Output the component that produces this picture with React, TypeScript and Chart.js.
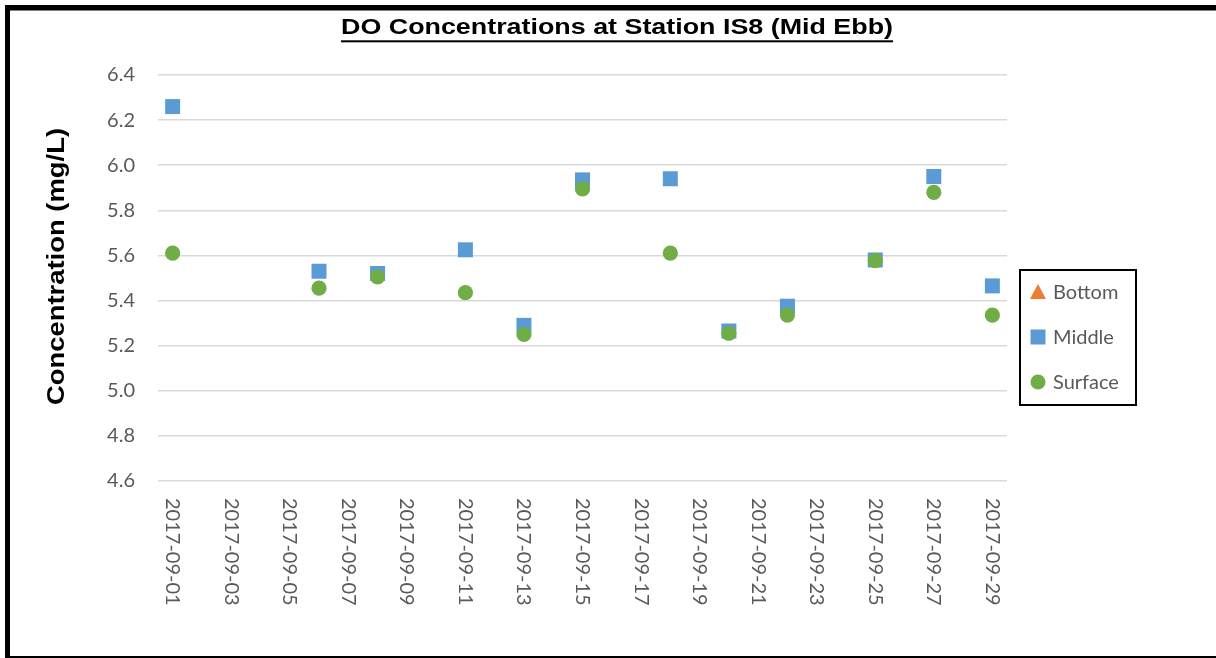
import React, { useEffect, useRef } from "react";
import { Chart, registerables } from "chart.js";

Chart.register(...registerables);

const chartTitle = "DO Concentrations at Station IS8 (Mid Ebb)";
const yAxisTitle = "Concentration (mg/L)";
const seriesNames = ["Bottom", "Middle", "Surface"];

const sampleDates = [
  "2017-09-01", "2017-09-06", "2017-09-08", "2017-09-11", "2017-09-13", "2017-09-15",
  "2017-09-18", "2017-09-20", "2017-09-22", "2017-09-25", "2017-09-27", "2017-09-29",
];
const bottomValues: (number | null)[] = [null, null, null, null, null, null, null, null, null, null, null, null];
const middleValues = [6.26, 5.53, 5.52, 5.625, 5.29, 5.935, 5.94, 5.265, 5.375, 5.58, 5.95, 5.465];
const surfaceValues = [5.61, 5.455, 5.505, 5.435, 5.25, 5.895, 5.61, 5.255, 5.335, 5.577, 5.88, 5.335];

const xTickLabels = [
  "2017-09-01", "2017-09-03", "2017-09-05", "2017-09-07", "2017-09-09", "2017-09-11", "2017-09-13",
  "2017-09-15", "2017-09-17", "2017-09-19", "2017-09-21", "2017-09-23", "2017-09-25", "2017-09-27", "2017-09-29",
];
const yMin = 4.6;
const yMax = 6.4;
const yStep = 0.2;

const colors = { Bottom: "#ED7D31", Middle: "#5B9BD5", Surface: "#70AD47" };
const FONT = "Lato";
const TITLE_FONT = '"Liberation Sans", Arial, sans-serif';

const dayOf = (d: string) => Number(d.slice(8, 10));

const toPoints = (vals: (number | null)[]) =>
  sampleDates.map((d, i) => ({ x: dayOf(d), y: vals[i] }));

const framePlugin = {
  id: "frame",
  beforeDraw(chart: any) {
    const { ctx, width, height } = chart;
    ctx.save();
    ctx.fillStyle = "#ffffff";
    ctx.fillRect(0, 0, width, height);
    ctx.restore();
  },
  afterDraw(chart: any) {
    const { ctx, width, height, chartArea } = chart;
    ctx.save();
    // outer frame
    ctx.fillStyle = "#000000";
    ctx.fillRect(5, 5, width - 5, 5.5);
    ctx.fillRect(5, 5, 5, height - 5);
    ctx.fillRect(5, height - 2, width - 5, 2);

    // chart title (underlined), widened like the original rendering
    ctx.font = `bold 22px ${TITLE_FONT}`;
    ctx.textAlign = "center";
    ctx.textBaseline = "alphabetic";
    const tw = ctx.measureText(chartTitle).width;
    const targetW = 552;
    const sx = targetW / tw;
    ctx.save();
    ctx.translate(617, 34);
    ctx.scale(sx, 1);
    ctx.fillText(chartTitle, 0, 0);
    ctx.restore();
    ctx.fillRect(617 - targetW / 2, 40.3, targetW, 2);

    // y axis title (rotated)
    ctx.font = `bold 24px ${TITLE_FONT}`;
    const yw = ctx.measureText(yAxisTitle).width;
    const yTarget = 277;
    ctx.save();
    ctx.translate(57, 266.5);
    ctx.rotate(-Math.PI / 2);
    ctx.scale(yTarget / yw, 1);
    ctx.textAlign = "center";
    ctx.textBaseline = "middle";
    ctx.fillText(yAxisTitle, 0, 0);
    ctx.restore();

    // x tick labels (rotated clockwise)
    const xs = chart.scales.x;
    ctx.fillStyle = "#595959";
    ctx.font = `20px ${FONT}`;
    ctx.textAlign = "left";
    ctx.textBaseline = "middle";
    xTickLabels.forEach((lab) => {
      const px = xs.getPixelForValue(dayOf(lab));
      ctx.save();
      ctx.translate(px, chartArea.bottom + 17);
      ctx.rotate(Math.PI / 2);
      ctx.fillText(lab, 0, 0);
      ctx.restore();
    });

    // legend
    const bx = chartArea.right + 13;
    const by = 270;
    const bw = 116;
    const bh = 135;
    ctx.strokeStyle = "#000000";
    ctx.lineWidth = 2;
    ctx.strokeRect(bx, by, bw, bh);
    chart.data.datasets.forEach((ds: any, i: number) => {
      const mx = bx + 18;
      const my = by + 22 + i * 45;
      ctx.fillStyle = ds.backgroundColor;
      ctx.beginPath();
      if (ds.pointStyle === "triangle") {
        ctx.moveTo(mx, my - 8);
        ctx.lineTo(mx + 8, my + 7);
        ctx.lineTo(mx - 8, my + 7);
        ctx.closePath();
      } else if (ds.pointStyle === "rect") {
        ctx.rect(mx - 7.5, my - 7.5, 15, 15);
      } else {
        ctx.arc(mx, my, 7.5, 0, Math.PI * 2);
      }
      ctx.fill();
      ctx.fillStyle = "#595959";
      ctx.font = `20px ${FONT}`;
      ctx.textAlign = "left";
      ctx.textBaseline = "middle";
      ctx.fillText(ds.label, bx + 33, my + 1);
    });
    ctx.restore();
  },
};

export default function App() {
  const canvasRef = useRef<HTMLCanvasElement | null>(null);

  useEffect(() => {
    document.body.style.margin = "0";
    const canvas = canvasRef.current;
    if (!canvas) return;
    const chart = new Chart(canvas, {
      type: "scatter",
      data: {
        datasets: [
          {
            label: seriesNames[0],
            data: toPoints(bottomValues),
            pointStyle: "triangle",
            backgroundColor: colors.Bottom,
            borderColor: colors.Bottom,
            pointRadius: 9,
            pointBorderWidth: 0,
            order: 2,
          },
          {
            label: seriesNames[1],
            data: toPoints(middleValues),
            pointStyle: "rect",
            backgroundColor: colors.Middle,
            borderColor: colors.Middle,
            pointRadius: 10.6,
            pointBorderWidth: 0,
            order: 1,
          },
          {
            label: seriesNames[2],
            data: toPoints(surfaceValues),
            pointStyle: "circle",
            backgroundColor: colors.Surface,
            borderColor: colors.Surface,
            pointRadius: 7.6,
            pointBorderWidth: 0,
            order: 0,
          },
        ],
      },
      options: {
        animation: false,
        responsive: false,
        devicePixelRatio: 1,
        layout: { padding: { left: 18, right: 0, top: 75, bottom: 0 } },
        plugins: {
          legend: { display: false },
          tooltip: { enabled: false },
          title: { display: false },
        },
        scales: {
          x: {
            type: "linear",
            min: 0.5,
            max: 29.5,
            ticks: { display: false },
            grid: { display: false },
            border: { display: false },
            afterFit: (s: any) => {
              s.height = 177;
            },
          },
          y: {
            type: "linear",
            position: "left",
            min: yMin,
            max: yMax,
            ticks: {
              stepSize: yStep,
              callback: (v: any) => Number(v).toFixed(1),
              font: { family: FONT, size: 20 },
              color: "#595959",
              padding: 23,
            },
            grid: { color: "#d9d9d9", lineWidth: 1.5, drawTicks: false },
            border: { display: false },
            afterFit: (s: any) => {
              s.width = 140;
            },
          },
          yRight: {
            type: "linear",
            position: "right",
            display: true,
            ticks: { display: false },
            grid: { display: false },
            border: { display: false },
            afterFit: (s: any) => {
              s.width = 209;
            },
          },
        },
      },
      plugins: [framePlugin],
    } as any);
    return () => chart.destroy();
  }, []);

  return (
    <div style={{ position: "absolute", left: 0, top: 0, width: 1216, height: 658 }}>
      <canvas ref={canvasRef} width={1216} height={658} style={{ width: 1216, height: 658, display: "block" }} />
    </div>
  );
}
